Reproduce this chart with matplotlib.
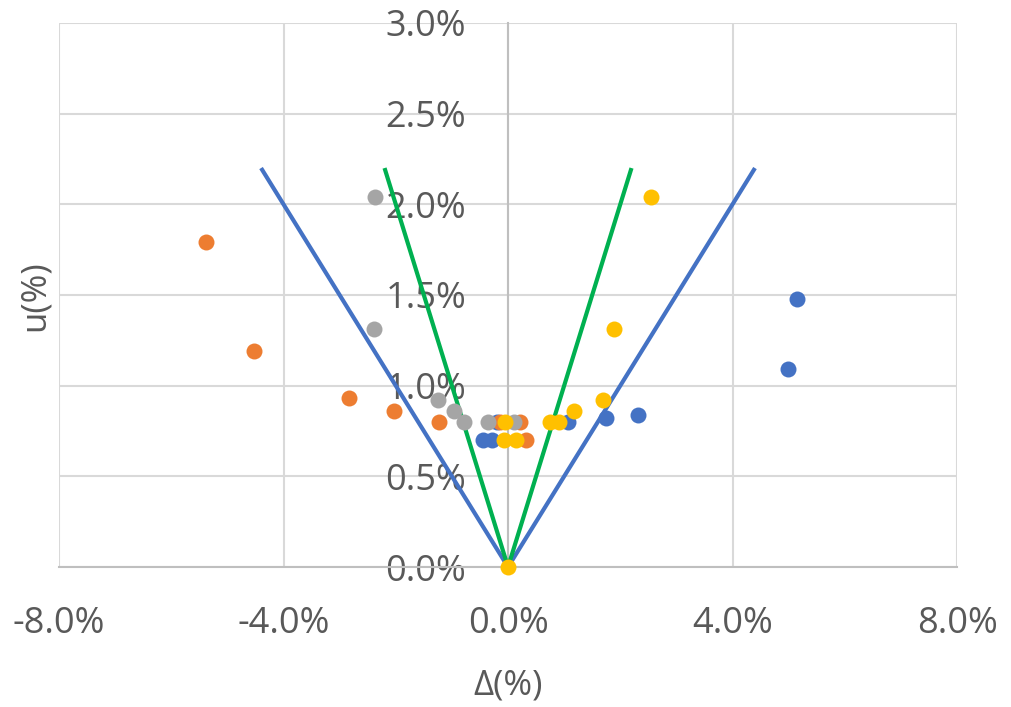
import matplotlib.pyplot as plt
from matplotlib.ticker import FuncFormatter

# --- data (all values in %) ---
blue_x = [-0.44, -0.29, -0.20, 1.07, 1.75, 2.32, 4.99, 5.15]
blue_u = [0.70, 0.70, 0.80, 0.80, 0.82, 0.84, 1.09, 1.48]

orange_x = [-5.38, -4.53, -2.83, -2.03, -1.23, -0.15, 0.21, 0.32]
orange_u = [1.79, 1.19, 0.93, 0.86, 0.80, 0.80, 0.80, 0.70]

gray_x = [-2.37, -2.39, -1.24, -0.96, -0.79, -0.35, 0.11]
gray_u = [2.04, 1.31, 0.92, 0.86, 0.80, 0.80, 0.80]

yellow_x = [2.55, 1.89, 1.69, 1.18, 0.91, 0.75, -0.05, -0.08, 0.15, 0.0]
yellow_u = [2.04, 1.31, 0.92, 0.86, 0.80, 0.80, 0.80, 0.70, 0.70, 0.0]

# limit lines: |delta| = 2u (blue) and |delta| = u (green)
wide_x = [-4.4, 0.0, 4.4]
wide_u = [2.2, 0.0, 2.2]
narrow_x = [-2.2, 0.0, 2.2]
narrow_u = [2.2, 0.0, 2.2]

x_ticks = [-8, -4, 0, 4, 8]
y_ticks = [0, 0.5, 1.0, 1.5, 2.0, 2.5, 3.0]

text_col = '#595959'
plt.rcParams['font.family'] = ['Open Sans', 'DejaVu Sans']

fig = plt.figure(figsize=(10.12, 7.07), dpi=100)
ax = fig.add_axes([0.0583, 0.198, 0.8874, 0.7695])

# lines first, points on top
ax.plot(wide_x, wide_u, color='#4472C4', lw=3, solid_capstyle='butt', zorder=3)
ax.plot(narrow_x, narrow_u, color='#00B050', lw=3, solid_capstyle='butt', zorder=3)

for xs, us, c in [(blue_x, blue_u, '#4472C4'),
                  (orange_x, orange_u, '#ED7D31'),
                  (gray_x, gray_u, '#A5A5A5'),
                  (yellow_x, yellow_u, '#FFC000')]:
    ax.plot(xs, us, 'o', color=c, markersize=11.5, markeredgewidth=0,
            zorder=4, clip_on=False)

ax.set_xlim(-8, 8)
ax.set_ylim(0, 3)
ax.set_xticks(x_ticks)
ax.set_yticks(y_ticks)
ax.xaxis.set_major_formatter(FuncFormatter(lambda v, p: f'{v:.1f}%'))
ax.yaxis.set_major_formatter(FuncFormatter(lambda v, p: f'{v:.1f}%'))

ax.grid(True, color='#d9d9d9', lw=1.5, zorder=0)
ax.set_axisbelow(True)

# vertical axis crosses at zero
ax.spines['left'].set_position(('data', 0))
ax.spines['left'].set_color('#bfbfbf')
ax.spines['bottom'].set_color('#bfbfbf')
ax.spines['left'].set_linewidth(1.5)
ax.spines['bottom'].set_linewidth(1.5)
ax.spines['top'].set_visible(False)
ax.spines['right'].set_visible(False)

ax.tick_params(axis='y', length=0, pad=30, labelsize=26, labelcolor=text_col)
ax.tick_params(axis='x', length=0, pad=28, labelsize=26, labelcolor=text_col)

fig.text(508 / 1012, 1 - 685 / 707, 'Δ(%)', ha='center', va='center',
         fontsize=25, color=text_col)
fig.text(35 / 1012, 1 - 296 / 707, 'u(%)', ha='center', va='center',
         rotation=90, fontsize=25, color=text_col)

plt.savefig('out.png', dpi=100)
